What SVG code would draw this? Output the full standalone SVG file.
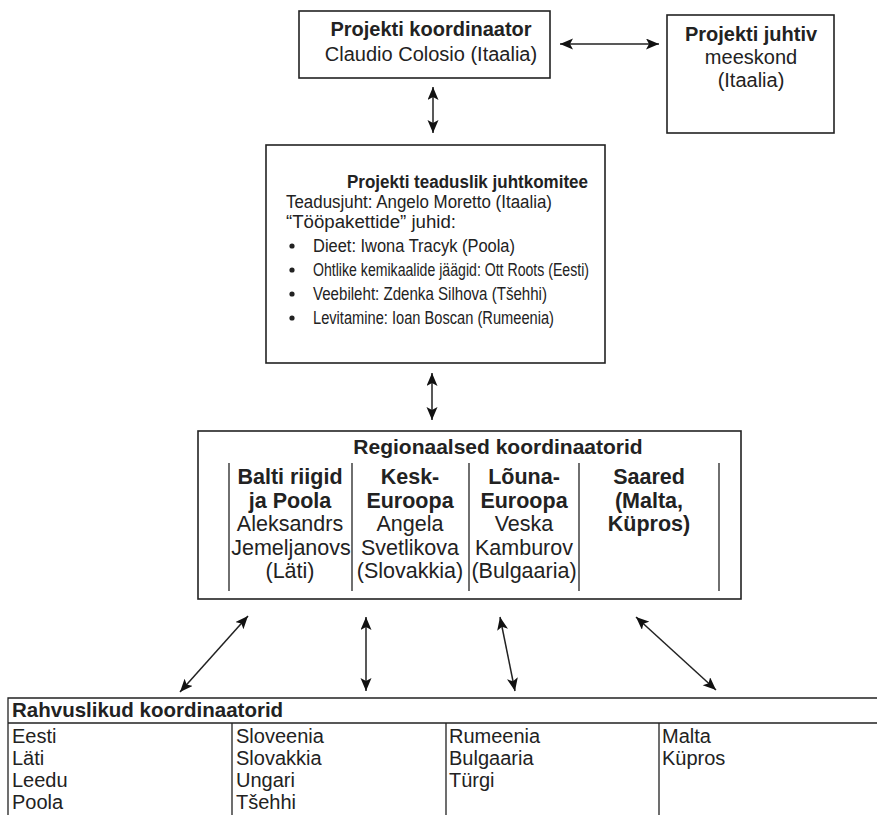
<svg xmlns="http://www.w3.org/2000/svg" width="877" height="815" viewBox="0 0 877 815">
<style>
text{font-family:"Liberation Sans",Arial,sans-serif;fill:#222}
.b{font-weight:bold}
.s20{font-size:20px}
.s18{font-size:18px}
.s17{font-size:17.5px}
.s21{font-size:21.5px}
.box{fill:#fff;stroke:#222;stroke-width:1.6}
.ln{stroke:#222;stroke-width:1.3;fill:none}
.c{stroke:#222;stroke-width:1.5;fill:none;marker-start:url(#ah);marker-end:url(#ah)}
</style>
<defs>
<marker id="ah" markerUnits="userSpaceOnUse" markerWidth="14" markerHeight="12" refX="13" refY="5.5" orient="auto-start-reverse">
<path d="M0,0 L13,5.5 L0,11 L3,5.5 z" fill="#111"/>
</marker>
</defs>
<rect width="877" height="815" fill="#fff"/>

<g id="coordinator">
<rect class="box" x="299" y="11" width="251" height="67"/>
<text class="b s20" x="431" y="36" text-anchor="middle">Projekti koordinaator</text>
<text class="s20" x="431" y="61" text-anchor="middle">Claudio Colosio (Itaalia)</text>
</g>

<g id="team">
<rect class="box" x="667" y="15" width="167" height="118"/>
<text class="b s20" x="751" y="41" text-anchor="middle">Projekti juhtiv</text>
<text class="s20" x="751" y="64" text-anchor="middle">meeskond</text>
<text class="s20" x="751" y="87" text-anchor="middle">(Itaalia)</text>
</g>

<g id="committee">
<rect class="box" x="266" y="145" width="339" height="218"/>
<text class="b s18" x="347" y="188" textLength="241" lengthAdjust="spacingAndGlyphs">Projekti teaduslik juhtkomitee</text>
<text class="s18" x="286" y="208" textLength="266" lengthAdjust="spacingAndGlyphs">Teadusjuht: Angelo Moretto (Itaalia)</text>
<text class="s18" x="286" y="228" textLength="170" lengthAdjust="spacingAndGlyphs">“Tööpakettide” juhid:</text>
<text class="s17" x="313" y="252" textLength="202" lengthAdjust="spacingAndGlyphs">Dieet: Iwona Tracyk (Poola)</text>
<text class="s17" x="313" y="276" textLength="276" lengthAdjust="spacingAndGlyphs">Ohtlike kemikaalide jäägid: Ott Roots (Eesti)</text>
<text class="s17" x="313" y="300" textLength="234" lengthAdjust="spacingAndGlyphs">Veebileht: Zdenka Silhova (Tšehhi)</text>
<text class="s17" x="313" y="324" textLength="241" lengthAdjust="spacingAndGlyphs">Levitamine: Ioan Boscan (Rumeenia)</text>
<circle cx="292" cy="246" r="2.6" fill="#222"/>
<circle cx="292" cy="270" r="2.6" fill="#222"/>
<circle cx="292" cy="294" r="2.6" fill="#222"/>
<circle cx="292" cy="318" r="2.6" fill="#222"/>
</g>

<g id="regional">
<rect class="box" x="198" y="431" width="543" height="168"/>
<text class="b" font-size="21px" x="498" y="454" text-anchor="middle">Regionaalsed koordinaatorid</text>
<line class="ln" x1="229" y1="463" x2="229" y2="591"/>
<line class="ln" x1="352" y1="463" x2="352" y2="591"/>
<line class="ln" x1="469" y1="463" x2="469" y2="591"/>
<line class="ln" x1="579" y1="463" x2="579" y2="591"/>
<line class="ln" x1="719" y1="463" x2="719" y2="591"/>
<g text-anchor="middle" class="s21">
<text class="b" x="290" y="484">Balti riigid</text>
<text class="b" x="290" y="507.5">ja Poola</text>
<text x="290" y="531">Aleksandrs</text>
<text x="291" y="554.5">Jemeljanovs</text>
<text x="290" y="578">(Läti)</text>
<text class="b" x="410" y="484">Kesk-</text>
<text class="b" x="410" y="507.5">Euroopa</text>
<text x="410" y="531">Angela</text>
<text x="410" y="554.5">Svetlikova</text>
<text x="410" y="578">(Slovakkia)</text>
<text class="b" x="524" y="484">Lõuna-</text>
<text class="b" x="524" y="507.5">Euroopa</text>
<text x="524" y="531">Veska</text>
<text x="524" y="554.5">Kamburov</text>
<text x="524" y="578">(Bulgaaria)</text>
<text class="b" x="649" y="484">Saared</text>
<text class="b" x="649" y="507.5">(Malta,</text>
<text class="b" x="649" y="531">Küpros)</text>
</g>
</g>

<g id="national">
<path class="ln" d="M8,815 V698 H877 M8,723 H877 M232,723 V815 M446,723 V815 M659,723 V815" stroke-width="1.5"/>
<text class="b" font-size="20.5px" x="12" y="717">Rahvuslikud koordinaatorid</text>
<g class="s20">
<text x="12" y="743">Eesti</text>
<text x="12" y="765">Läti</text>
<text x="12" y="787">Leedu</text>
<text x="12" y="809">Poola</text>
<text x="236" y="743">Sloveenia</text>
<text x="236" y="765">Slovakkia</text>
<text x="236" y="787">Ungari</text>
<text x="236" y="809">Tšehhi</text>
<text x="449" y="743">Rumeenia</text>
<text x="449" y="765">Bulgaaria</text>
<text x="449" y="787">Türgi</text>
<text x="662" y="743">Malta</text>
<text x="662" y="765">Küpros</text>
</g>
</g>

<g id="connectors">
<line class="c" x1="560" y1="44" x2="659" y2="44"/>
<line class="c" x1="433" y1="87" x2="433" y2="133"/>
<line class="c" x1="432" y1="373" x2="432" y2="420"/>
<line class="c" x1="248" y1="616" x2="180" y2="692"/>
<line class="c" x1="366" y1="617" x2="366" y2="691"/>
<line class="c" x1="500" y1="617" x2="515" y2="691"/>
<line class="c" x1="636" y1="617" x2="716" y2="690"/>
</g>
</svg>
